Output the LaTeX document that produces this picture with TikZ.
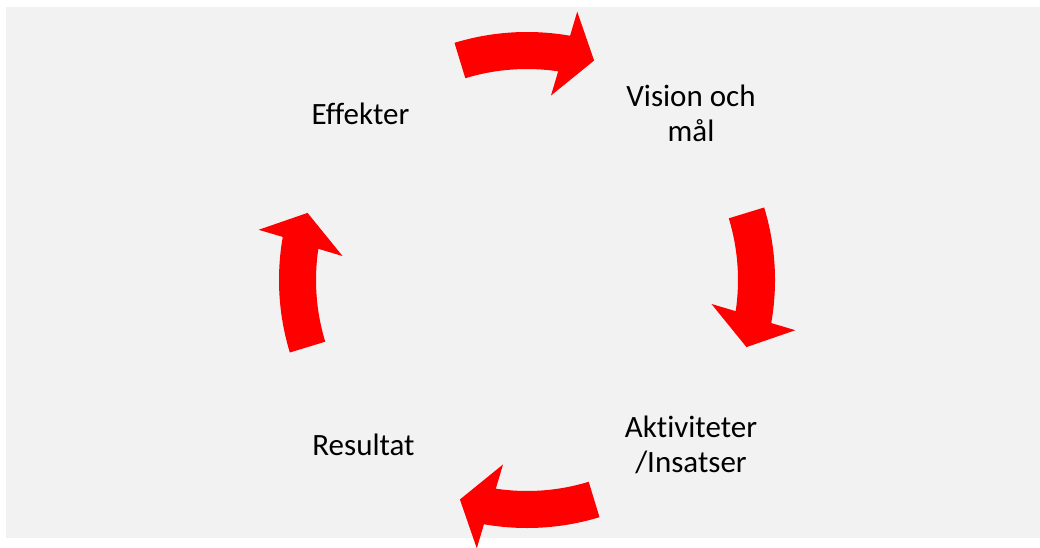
\documentclass[tikz,border=0pt]{standalone}
\usepackage{fontspec}
\setmainfont{Carlito}[Ligatures=CommonOff]
\definecolor{bggray}{HTML}{F2F2F2}
\definecolor{arrowred}{HTML}{FF0000}
\tikzset{
  lbl/.style={font=\fontsize{31}{35}\selectfont, text=black, align=center, inner sep=0pt, anchor=base},
  cyclearrow/.style={fill=arrowred, draw=none},
}
\begin{document}
\begin{tikzpicture}[x=1pt,y=1pt]
\useasboundingbox (0,0) rectangle (1040,-548);
\fill[bggray] (6,-7) rectangle (1040,-538);
\coordinate (c) at (527,-280);
\foreach \r in {0,-90,-180,-270}{
  \begin{scope}[shift={(c)}, rotate=\r]
    \fill[cyclearrow] (107:248pt) arc[start angle=107, end angle=80, radius=248pt]
      -- (79.4:273pt) -- (73:229.5pt) -- (82.6:186pt) -- (81.5:211pt)
      arc[start angle=81.5, end angle=107, radius=211pt] -- cycle;
  \end{scope}
}
\node[lbl] (effekter) at (360.5,-125) {Effekter};
\node[lbl] (vision) at (691,-142) {Vision och\\mål};
\node[lbl] (aktiviteter) at (691,-472) {Aktiviteter\\/Insatser};
\node[lbl] (resultat) at (363.5,-455) {Resultat};
\end{tikzpicture}
\end{document}
